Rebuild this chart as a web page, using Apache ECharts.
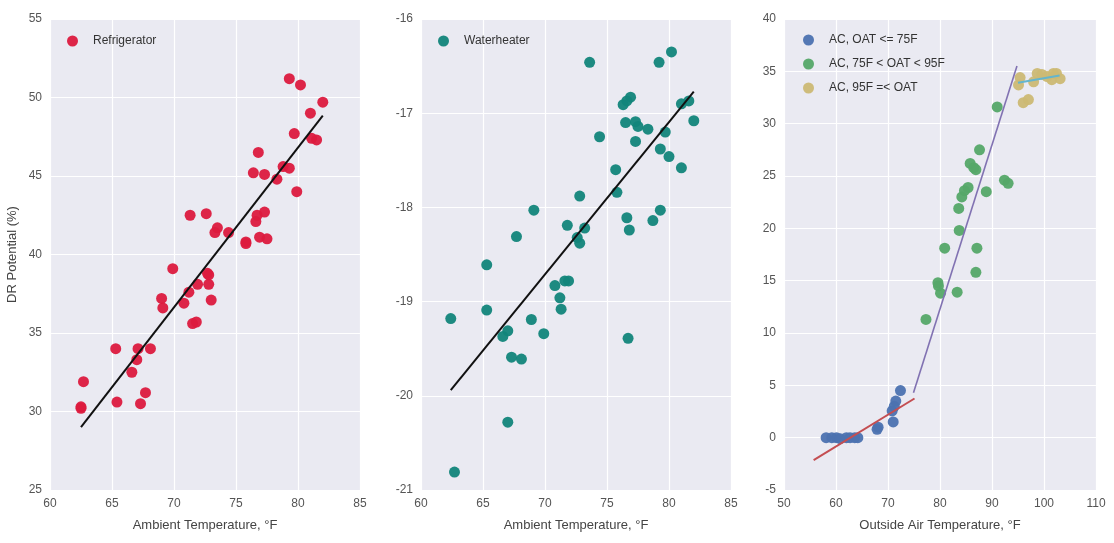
<!DOCTYPE html>
<html>
<head>
<meta charset="utf-8">
<script src="https://cdn.jsdelivr.net/npm/echarts@6/dist/echarts.min.js"></script>
<style>
html,body{margin:0;padding:0;background:#fff;}
#c{width:1114px;height:543px;}
</style>
</head>
<body>
<div id="c"></div>
<script>
// ---- Data ----
const fridgeX = [79.3,80.2,82.0,81.0,79.7,81.1,81.5,76.8,76.4,77.3,78.8,79.3,78.3,79.9,71.3,72.6,76.7,77.3,76.6,73.5,73.3,74.4,75.8,75.8,76.9,77.5,69.9,72.7,72.8,72.8,71.9,71.2,69.0,69.1,70.8,73.0,71.5,71.8,65.3,67.1,68.1,67.0,66.6,62.7,67.7,65.4,67.3,62.5,62.5];
const fridgeY = [51.2,50.8,49.7,49.0,47.7,47.4,47.3,46.5,45.2,45.1,45.6,45.5,44.8,44.0,42.5,42.6,42.5,42.7,42.1,41.7,41.4,41.4,40.8,40.7,41.1,41.0,39.1,38.8,38.7,38.1,38.1,37.6,37.2,36.6,36.9,37.1,35.6,35.7,34.0,34.0,34.0,33.3,32.5,31.9,31.2,30.6,30.5,30.3,30.2];
const fridgeFitX = [62.5, 82.0];
const fridgeFitY = [29.0, 48.85];

const waterX = [73.6,79.2,80.2,76.9,76.6,76.3,81.0,81.6,82.0,76.5,77.3,77.5,78.3,77.3,74.4,79.7,79.3,80.0,81.0,75.7,75.8,72.8,69.1,79.3,78.7,76.6,76.8,71.8,73.2,72.6,72.8,67.7,65.3,70.8,71.6,71.9,71.2,71.3,65.3,62.4,68.9,67.0,66.6,69.9,76.7,67.3,68.1,67.0,62.7];
const waterY = [-16.46,-16.46,-16.35,-16.83,-16.87,-16.91,-16.90,-16.87,-17.08,-17.10,-17.09,-17.14,-17.17,-17.30,-17.25,-17.20,-17.38,-17.46,-17.58,-17.60,-17.84,-17.88,-18.03,-18.03,-18.14,-18.11,-18.24,-18.19,-18.22,-18.32,-18.38,-18.31,-18.61,-18.83,-18.78,-18.78,-18.96,-19.08,-19.09,-19.18,-19.19,-19.31,-19.37,-19.34,-19.39,-19.59,-19.61,-20.28,-20.81];
const waterFitX = [62.4, 82.0];
const waterFitY = [-19.94, -16.77];

const acLowX = [58.1,59.2,60.1,60.8,62.0,62.7,63.6,64.2,67.9,68.1,71.0,70.8,71.2,71.5,72.4];
const acLowY = [0.0,0.0,0.0,-0.1,0.0,0.0,0.0,0.0,0.8,1.0,1.5,2.55,3.0,3.5,4.5];
const acMidX = [91.0,87.6,85.8,86.5,86.9,92.4,93.1,85.4,84.7,84.2,88.9,83.6,83.7,80.9,87.1,86.9,79.6,79.7,80.1,83.3,77.3];
const acMidY = [31.6,27.5,26.2,25.8,25.6,24.6,24.3,23.9,23.6,23.0,23.5,21.9,19.8,18.1,18.1,15.8,14.8,14.5,13.8,13.9,11.3];
const acHighX = [95.4,95.1,96.0,97.0,98.0,98.7,99.6,100.6,101.5,102.4,103.1,101.8];
const acHighY = [34.4,33.7,32.0,32.3,34.0,34.8,34.7,34.5,34.2,34.8,34.3,34.8];
const acLowFitX = [55.7, 75.1];
const acLowFitY = [-2.15, 3.74];
const acMidFitX = [74.9, 94.8];
const acMidFitY = [4.3, 35.5];
const acHighFitX = [95.0, 103.0];
const acHighFitY = [33.9, 34.6];

const names = ['Refrigerator','Waterheater','AC, OAT <= 75F','AC, 75F < OAT < 95F','AC, 95F =< OAT'];
const xLabels = ['Ambient Temperature, °F','Ambient Temperature, °F','Outside Air Temperature, °F'];
const yLabel = 'DR Potential (%)';

// ---- Build ----
const zip = (a,b) => a.map((v,i)=>[v,b[i]]);
const font = 'Liberation Sans, Arial, sans-serif';
const gridBg = '#EAEAF2';
const grids = [
  {left:50, top:19, width:310, height:471},
  {left:421, top:19, width:310, height:471},
  {left:784, top:19, width:312, height:471}
].map(g => Object.assign(g, {show:true, backgroundColor:gridBg, borderWidth:0}));

function xAxis(i, min, max, interval){
  return {gridIndex:i, type:'value', min, max, interval,
    name:xLabels[i], nameLocation:'middle', nameGap:29,
    nameTextStyle:{fontFamily:font, fontSize:13, color:'#444'},
    axisLine:{show:false}, axisTick:{show:false},
    axisLabel:{fontFamily:font, fontSize:12, color:'#555', margin:8},
    splitLine:{show:true, lineStyle:{color:'#fff', width:1.2}}};
}
function yAxis(i, min, max, interval, name){
  return {gridIndex:i, type:'value', min, max, interval,
    name: name || '', nameLocation:'middle', nameGap:31,
    nameTextStyle:{fontFamily:font, fontSize:13, color:'#444'},
    axisLine:{show:false}, axisTick:{show:false},
    axisLabel:{fontFamily:font, fontSize:12, color:'#555', margin:8},
    splitLine:{show:true, lineStyle:{color:'#fff', width:1.2}}};
}
function scatter(name, i, xs, ys, color){
  return {name, type:'scatter', xAxisIndex:i, yAxisIndex:i, data:zip(xs,ys),
    symbolSize:11, itemStyle:{color, opacity:0.95}, z:3};
}
function fit(i, xs, ys, color, w){
  return {type:'line', xAxisIndex:i, yAxisIndex:i, data:zip(xs,ys), symbol:'none',
    lineStyle:{color, width:w||2}, z:4, silent:true};
}
const C = {red:'#DC1A3E', teal:'#12857A', blue:'#4C72B0', green:'#55A868', yellow:'#CCB974'};
const legText = {fontFamily:font, fontSize:12, color:'#333', padding:[0,0,0,10]};

const option = {
  animation:false,
  backgroundColor:'#fff',
  grid: grids,
  xAxis: [xAxis(0,60,85,5), xAxis(1,60,85,5), xAxis(2,50,110,10)],
  yAxis: [yAxis(0,25,55,5,yLabel), yAxis(1,-21,-16,1), yAxis(2,-5,40,5)],
  legend: [
    {data:[names[0]], left:62, top:30, icon:'circle', itemWidth:11, itemHeight:11, textStyle:legText},
    {data:[names[1]], left:433, top:30, icon:'circle', itemWidth:11, itemHeight:11, textStyle:legText},
    {data:[names[2],names[3],names[4]], left:798, top:29, orient:'vertical', icon:'circle', itemWidth:11, itemHeight:11, itemGap:12, textStyle:legText}
  ],
  series: [
    scatter(names[0],0,fridgeX,fridgeY,C.red),
    fit(0,fridgeFitX,fridgeFitY,'#111',2),
    scatter(names[1],1,waterX,waterY,C.teal),
    fit(1,waterFitX,waterFitY,'#111',2),
    scatter(names[2],2,acLowX,acLowY,C.blue),
    scatter(names[3],2,acMidX,acMidY,C.green),
    scatter(names[4],2,acHighX,acHighY,C.yellow),
    fit(2,acLowFitX,acLowFitY,'#C44E52',2),
    fit(2,acMidFitX,acMidFitY,'#8172B2',1.6),
    fit(2,acHighFitX,acHighFitY,'#64B5CD',2)
  ]
};
echarts.init(document.getElementById('c')).setOption(option);
</script>
</body>
</html>
